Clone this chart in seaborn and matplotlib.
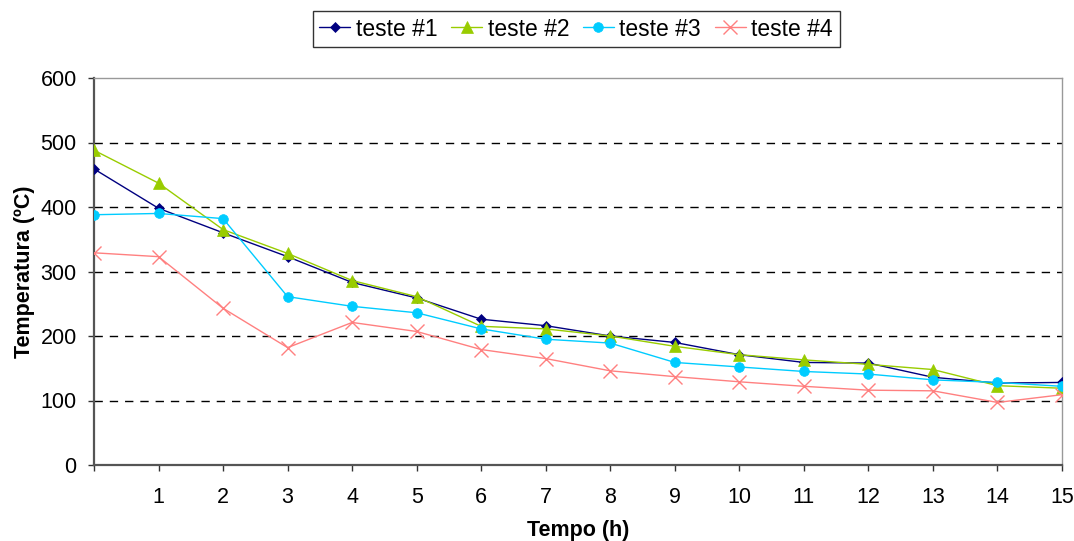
import numpy as np
import pandas as pd
import matplotlib
matplotlib.use("Agg")
import matplotlib.pyplot as plt
import seaborn as sns

# Temperature readings per test, sampled every hour
tempo = list(range(16))
teste1 = [459, 398, 360, 323, 283, 259, 226, 216, 200, 190, 171, 159, 158, 136, 127, 128]
teste2 = [488, 437, 365, 328, 286, 261, 215, 211, 200, 184, 171, 163, 156, 148, 123, 119]
teste3 = [388, 390, 382, 261, 246, 236, 211, 195, 189, 159, 152, 145, 141, 132, 128, 122]
teste4 = [329, 323, 243, 182, 221, 207, 179, 165, 146, 137, 129, 122, 116, 115, 97, 109]
series_names = ["teste #1", "teste #2", "teste #3", "teste #4"]
x_ticklabels = [str(i) for i in range(1, 16)]

df = pd.DataFrame({
    "Tempo": tempo * 4,
    "Temperatura": teste1 + teste2 + teste3 + teste4,
    "Serie": sum([[n] * len(tempo) for n in series_names], []),
})

sns.set_theme(style="white")
plt.rcParams["font.family"] = ["Liberation Sans", "DejaVu Sans"]
plt.rcParams["text.color"] = "black"
plt.rcParams["axes.labelcolor"] = "black"

palette = {"teste #1": "#000080", "teste #2": "#99CC00",
           "teste #3": "#00CCFF", "teste #4": "#FF8080"}
markers = {"teste #1": "D", "teste #2": "^", "teste #3": "o", "teste #4": "x"}
sizes = {"teste #1": 5.5, "teste #2": 8.5, "teste #3": 7, "teste #4": 10}

fig = plt.figure(figsize=(10.74, 5.41), dpi=100)
ax = fig.add_axes([94 / 1074, 1 - 465 / 541, (1062 - 94) / 1074, (465 - 78) / 541])

for name in series_names:
    sub = df[df["Serie"] == name]
    sns.lineplot(data=sub, x="Tempo", y="Temperatura", ax=ax, color=palette[name],
                 marker=markers[name], markersize=sizes[name], linewidth=1.0,
                 markeredgewidth=1.0 if name == "teste #4" else 0.5,
                 markeredgecolor=palette[name], label=name, zorder=3)

ax.set_xlim(0, 15)
ax.set_ylim(0, 600)
ax.set_yticks(range(0, 601, 100))
ax.set_xticks(range(0, 16))
ax.set_xticklabels([""] + x_ticklabels)

# dashed horizontal gridlines
for yv in range(100, 600, 100):
    ax.axhline(yv, color="black", linestyle=(0, (6, 5)), linewidth=1.0, zorder=1)

for side in ["left", "bottom"]:
    ax.spines[side].set_color("#555555")
    ax.spines[side].set_linewidth(1.6)
for side in ["top", "right"]:
    ax.spines[side].set_color("#999999")
    ax.spines[side].set_linewidth(1.0)

ax.tick_params(axis="both", which="both", direction="out", length=4.5, width=1.0,
               color="#333333", labelsize=15.5, labelcolor="black",
               bottom=True, left=True)
ax.tick_params(axis="x", pad=11)
ax.tick_params(axis="y", pad=8)

ax.set_xlabel("Tempo (h)", fontsize=15.5, fontweight="bold", labelpad=9, color="black")
ax.set_ylabel("Temperatura (ºC)", fontsize=15.5, fontweight="bold", labelpad=4, color="black")

leg = ax.legend(loc="center", bbox_to_anchor=(576 / 1074, 1 - 29 / 541),
                bbox_transform=fig.transFigure, ncol=4,
                fontsize=16.5, frameon=True, fancybox=False, edgecolor="black",
                handlelength=1.35, handletextpad=0.24, columnspacing=0.6,
                borderpad=0.3, borderaxespad=0, labelcolor="black")
leg.get_frame().set_linewidth(1.0)

fig.savefig("out.png", dpi=100, facecolor="white")
